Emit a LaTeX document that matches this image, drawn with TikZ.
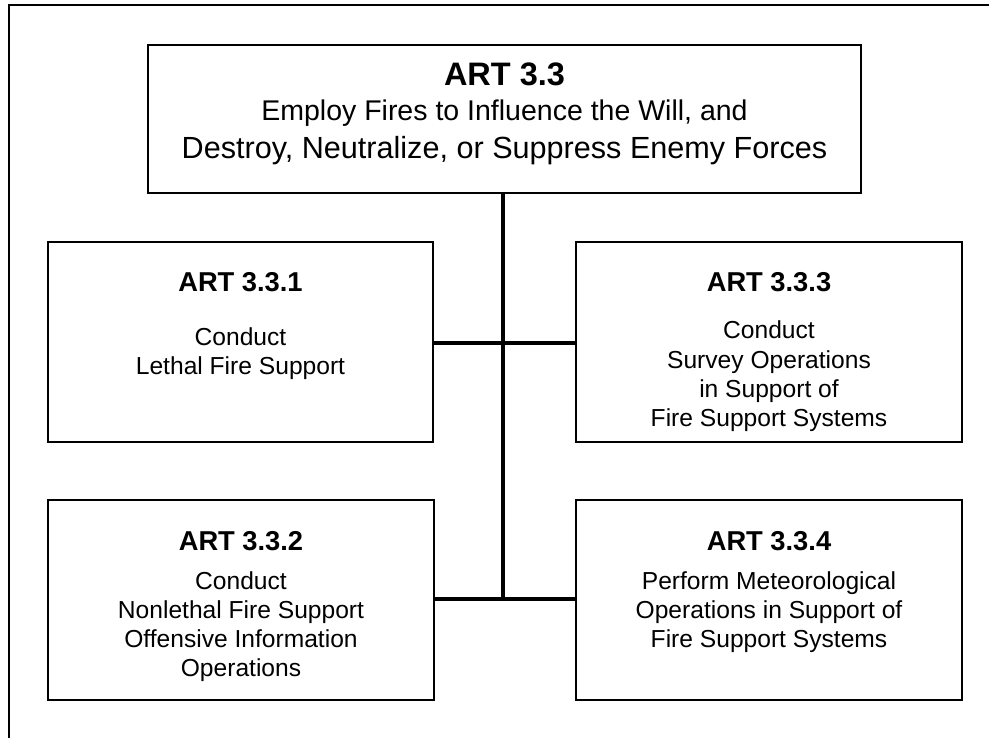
\documentclass[tikz,border=0pt]{standalone}
\usepackage{fontspec}
\setmainfont{Liberation Sans}
\begin{document}
\begin{tikzpicture}[x=1pt,y=-1pt,
  box/.style={draw,line width=2pt,inner sep=0pt,outer sep=0pt},
  conn/.style={line width=4.5pt},
  frame/.style={line width=2.2pt},
  ttl/.style={anchor=base,inner sep=0pt,font=\fontsize{32.5}{38}\selectfont\bfseries},
  bigt/.style={anchor=base,inner sep=0pt,font=\fontsize{28.5}{36}\selectfont},
  bigu/.style={anchor=base,inner sep=0pt,font=\fontsize{30.6}{36}\selectfont},
  sttl/.style={anchor=base,inner sep=0pt,font=\fontsize{27.3}{30}\selectfont\bfseries},
  body/.style={anchor=base,inner sep=0pt,font=\fontsize{24.6}{28}\selectfont}]
\useasboundingbox (0,0) rectangle (989,738);
% outer frame
\coordinate (fl) at (9,738);
\coordinate (fc) at (9,5);
\coordinate (fr) at (989,5);
\draw[frame] (fl) -- (fc) -- (fr);
% boxes
\node[box,minimum width=713pt,minimum height=148pt] (top) at (504.5,119) {};
\node[box,minimum width=385pt,minimum height=200pt] (b1) at (240.5,342) {};
\node[box,minimum width=386pt,minimum height=200pt] (b3) at (769,342) {};
\node[box,minimum width=386pt,minimum height=200pt] (b2) at (241,600) {};
\node[box,minimum width=386pt,minimum height=200pt] (b4) at (769,600) {};
% connectors
\coordinate (vb) at (503,599);
\coordinate (j1) at (503,343);
\draw[conn] (top.south -| vb) -- (vb);
\draw[conn] (b1.east |- j1) -- (b3.west |- j1);
\draw[conn] (b2.east |- vb) -- (b4.west |- vb);
% top text
\node[ttl] (t0) at (504.5,86) {ART 3.3};
\node[bigt] (t1) at (504.5,121) {Employ Fires to Influence the Will, and};
\node[bigu] (t2) at (504.5,159) {Destroy, Neutralize, or Suppress Enemy Forces};
% box 1
\node[sttl] (a0) at (240.5,292) {ART 3.3.1};
\node[body] (a1) at (240.5,345) {Conduct};
\node[body] (a2) at (240.5,374) {Lethal Fire Support};
% box 3
\node[sttl] (c0) at (769,292) {ART 3.3.3};
\node[body] (c1) at (769,339) {Conduct};
\node[body] (c2) at (769,368) {Survey Operations};
\node[body] (c3) at (769,397) {in Support of};
\node[body] (c4) at (769,426) {Fire Support Systems};
% box 2
\node[sttl] (d0) at (241,550) {ART 3.3.2};
\node[body] (d1) at (241,589) {Conduct};
\node[body] (d2) at (241,618) {Nonlethal Fire Support};
\node[body] (d3) at (241,647) {Offensive Information};
\node[body] (d4) at (241,676) {Operations};
% box 4
\node[sttl] (e0) at (769,550) {ART 3.3.4};
\node[body] (e1) at (769,589) {Perform Meteorological};
\node[body] (e2) at (769,618) {Operations in Support of};
\node[body] (e3) at (769,647) {Fire Support Systems};
\end{tikzpicture}
\end{document}
